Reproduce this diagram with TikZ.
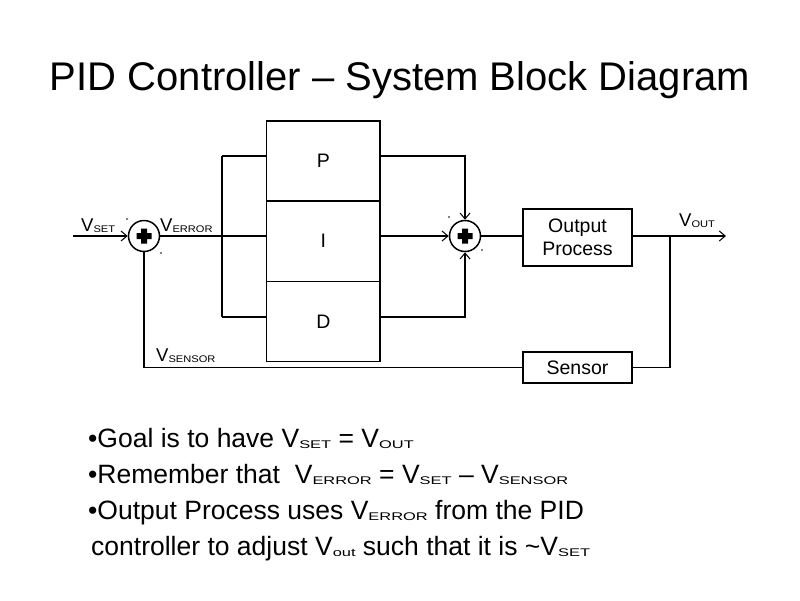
\documentclass[tikz,border=0pt]{standalone}
\usepackage{fontspec}
\setmainfont{Liberation Sans}
\usetikzlibrary{arrows.meta}
\newcommand{\lowsub}[1]{\raisebox{-1.6pt}{\scalebox{0.62}[0.42]{#1}}}
\newcommand{\lblsub}[1]{\raisebox{-1pt}{\scalebox{0.6}[0.52]{#1}}}
\begin{document}
\begin{tikzpicture}[x=1pt,y=-1pt,
  wire/.style={line width=1.5pt},
  arr/.style={wire,-{Straight Barb[length=6pt,width=10pt,line width=1pt]}},
  blk/.style={draw,line width=1.5pt,inner sep=0pt,font=\fontsize{19.5}{23}\selectfont,align=center},
  sumj/.style={draw,circle,line width=1.5pt,minimum size=31pt,inner sep=0pt},
  lbl/.style={font=\fontsize{18.5}{20}\selectfont,anchor=base west,inner sep=0pt},
  dotm/.style={fill,circle,inner sep=0pt,minimum size=1.6pt}]
\fill[white] (0,0) rectangle (800,600);
\node[anchor=base,font=\fontsize{40}{44}\selectfont,inner sep=0pt] (title) at (400,90) {PID Controller – System Block Diagram};
% PID boxes
\node[blk,minimum width=113.5pt,minimum height=79.7pt] (P) at (323.3,160.9) {P};
\node[blk,minimum width=113.5pt,minimum height=81pt] (I) at (323.3,241.2) {I};
\node[blk,minimum width=113.5pt,minimum height=80pt] (D) at (323.3,321.7) {D};
% summing junctions
\node[sumj] (s1) at (144,236) {};
\node[sumj] (s2) at (465,236) {};
\foreach \s in {s1,s2}{
  \fill ([shift={(-7.5pt,-3pt)}]\s.center) -- ([shift={(-3pt,-3pt)}]\s.center) -- ([shift={(-3pt,-7.5pt)}]\s.center)
     -- ([shift={(3pt,-7.5pt)}]\s.center) -- ([shift={(3pt,-3pt)}]\s.center) -- ([shift={(7.5pt,-3pt)}]\s.center)
     -- ([shift={(7.5pt,3pt)}]\s.center) -- ([shift={(3pt,3pt)}]\s.center) -- ([shift={(3pt,7.5pt)}]\s.center)
     -- ([shift={(-3pt,7.5pt)}]\s.center) -- ([shift={(-3pt,3pt)}]\s.center) -- ([shift={(-7.5pt,3pt)}]\s.center) -- cycle;
}
\node[dotm] (d1) at (127,219) {};
\node[dotm] (d2) at (161,253) {};
\node[dotm] (d3) at (449,217) {};
\node[dotm] (d4) at (482,250) {};
% other blocks
\node[blk,minimum width=109pt,minimum height=57pt] (OP) at (577.5,237.5) {Output\\Process};
\node[blk,minimum width=109pt,minimum height=31pt] (S) at (577.5,367.5) {Sensor};
% coordinates
\coordinate (vin) at (73,236);
\coordinate (vout) at (726,236);
\coordinate (brT) at (222,156);
\coordinate (brB) at (222,317);
\coordinate (tap) at (670,236);
\coordinate (fb) at (670,367.5);
% connectors
\draw[arr] (vin) -- (s1.west);
\draw[wire] (s1.east) -- (I.west |- s1);
\draw[wire] (brT) -- (brB);
\draw[wire] (brT) -- (P.west |- brT);
\draw[wire] (brB) -- (D.west |- brB);
\draw[arr] (P.east |- brT) -| (s2.north);
\draw[arr] (I.east |- s2) -- (s2.west);
\draw[arr] (D.east |- brB) -| (s2.south);
\draw[wire] (s2.east) -- (OP.west |- s2);
\draw[arr] (OP.east |- s2) -- (vout);
\draw[wire] (tap) -- (fb) -- (S.east |- fb);
\draw[wire] (S.west |- fb) -| (s1.south);
% labels
\node[lbl] (lset) at (81,231) {V\lblsub{SET}};
\node[lbl] (lerr) at (160,231) {V\lblsub{ERROR}};
\node[lbl] (lout) at (679,226) {V\lblsub{OUT}};
\node[lbl] (lsen) at (156,361) {V\lblsub{SENSOR}};
% bullets
\begin{scope}[every node/.style={anchor=base west,inner sep=0pt,font=\fontsize{26.5}{30}\selectfont}]
\node (b1) at (88,447) {•Goal is to have V\lowsub{SET} = V\lowsub{OUT}};
\node (b2) at (88,483) {•Remember that \ V\lowsub{ERROR} = V\lowsub{SET} – V\lowsub{SENSOR}};
\node (b3) at (88,519) {•Output Process uses V\lowsub{ERROR} from the PID};
\node (b4) at (91,555) {controller to adjust V\lowsub{out} such that it is \textasciitilde V\lowsub{SET}};
\end{scope}
\end{tikzpicture}
\end{document}
